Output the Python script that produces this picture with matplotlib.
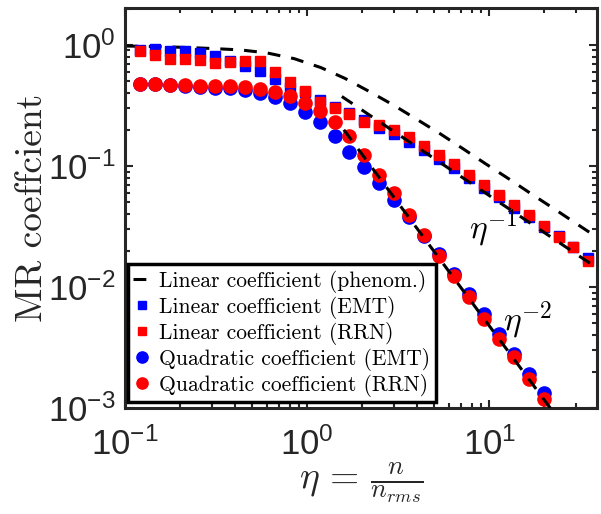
import numpy as np
import matplotlib
matplotlib.use('Agg')
import matplotlib.pyplot as plt
from matplotlib.ticker import FuncFormatter, LogLocator, NullFormatter

# ---------------- data ----------------
eta = [0.121, 0.147, 0.177, 0.214, 0.258, 0.312, 0.377, 0.455, 0.550, 0.664,
       0.802, 0.968, 1.170, 1.413, 1.706, 2.061, 2.489, 3.006, 3.631, 4.385,
       5.297, 6.397, 7.727, 9.333, 11.27, 13.61, 16.44, 19.86, 23.99, 28.97, 35.00]

lin_emt = [0.914, 0.923, 0.897, 0.897, 0.858, 0.815, 0.731, 0.665, 0.604, 0.521,
           0.443, 0.410, 0.352, 0.308, 0.273, 0.240, 0.205, 0.184, 0.159, 0.1357,
           0.1143, 0.0957, 0.0791, 0.0653, 0.0550, 0.0451, 0.0380, 0.0314, 0.0265,
           0.0215, 0.0175]

lin_rrn = [0.885, 0.831, 0.766, 0.770, 0.755, 0.704, 0.723, 0.741, 0.731, 0.597,
           0.490, 0.418, 0.339, 0.302, 0.270, 0.229, 0.220, 0.199, 0.174, 0.1464,
           0.1234, 0.1029, 0.0842, 0.0700, 0.0578, 0.0472, 0.0393, 0.0318, 0.0260,
           0.0212, 0.0164]

quad_emt = [0.475, 0.475, 0.469, 0.460, 0.451, 0.443, 0.439, 0.426, 0.403, 0.373,
            0.333, 0.280, 0.229, 0.177, 0.1306, 0.0972, 0.0727, 0.0523, 0.0380,
            0.0263, 0.01866, 0.01274, 0.00882, 0.00594, 0.00406, 0.00281, 0.00192,
            0.00132]

quad_rrn = [0.475, 0.475, 0.469, 0.463, 0.460, 0.454, 0.454, 0.449, 0.435, 0.406,
            0.376, 0.333, 0.284, 0.233, 0.176, 0.1234, 0.0842, 0.0601, 0.0393,
            0.0268, 0.01796, 0.01226, 0.00826, 0.00547, 0.00374, 0.00263, 0.00174,
            0.00119]

eta_phen = [0.1, 0.15, 0.21, 0.3, 0.43, 0.6, 0.85, 1.19, 1.61, 2.21, 2.96, 3.96,
            5.36, 7.16, 9.47, 12.67, 16.94, 22.96, 30.3, 40.0]
lin_phen = [0.98, 0.97, 0.955, 0.935, 0.91, 0.86, 0.77, 0.65, 0.53, 0.41, 0.32,
            0.245, 0.185, 0.139, 0.105, 0.079, 0.059, 0.0437, 0.0331, 0.0251]

eta_fit1 = [1.55, 40.0]
fit1 = [0.375, 0.0140]
eta_fit2 = [1.59, 23.0]
fit2 = [0.199, 8.8e-4]

labels = ['Linear coefficient (phenom.)', 'Linear coefficient (EMT)',
          'Linear coefficient (RRN)', 'Quadratic coefficient (EMT)',
          'Quadratic coefficient (RRN)']

# ---------------- style ----------------
plt.rcParams['font.family'] = ['Liberation Sans', 'DejaVu Sans']
plt.rcParams['mathtext.fontset'] = 'custom'
plt.rcParams['mathtext.rm'] = 'Liberation Sans'
plt.rcParams['mathtext.it'] = 'Liberation Sans:italic'
plt.rcParams['mathtext.bf'] = 'Liberation Sans:bold'

AX = '#262626'
BLUE = (0, 0, 1)
RED = (1, 0, 0)

fig = plt.figure(figsize=(6.01, 5.14), dpi=100)
ax = fig.add_axes([125 / 601, 1 - 408 / 514, (597 - 125) / 601, 400 / 514])

dash = (0, (4.2, 3.6))
h_phen, = ax.plot(eta_phen, lin_phen, color='k', lw=2.2, linestyle=dash, zorder=2)
h_le, = ax.plot(eta, lin_emt, 's', color=BLUE, ms=7.6, mec=BLUE, zorder=3)
h_lr, = ax.plot(eta, lin_rrn, 's', color=RED, ms=7.6, mec=RED, zorder=3)
h_qe, = ax.plot(eta[:len(quad_emt)], quad_emt, 'o', color=BLUE, ms=9.5, mec=BLUE, zorder=3)
h_qr, = ax.plot(eta[:len(quad_rrn)], quad_rrn, 'o', color=RED, ms=9.5, mec=RED, zorder=3)
ax.plot(eta_fit1, fit1, color='k', lw=2.2, linestyle=dash, zorder=4)
ax.plot(eta_fit2, fit2, color='k', lw=2.2, linestyle=dash, zorder=4)

ax.set_xscale('log')
ax.set_yscale('log')
ax.set_xlim(0.1, 39)
ax.set_ylim(1e-3, 2.02)

fmt = FuncFormatter(lambda v, p: r'$10^{%d}$' % int(round(np.log10(v))))
ax.xaxis.set_major_locator(LogLocator(base=10, numticks=10))
ax.yaxis.set_major_locator(LogLocator(base=10, numticks=10))
ax.xaxis.set_major_formatter(fmt)
ax.yaxis.set_major_formatter(fmt)
ax.xaxis.set_minor_locator(LogLocator(base=10, subs=np.arange(2, 10), numticks=20))
ax.yaxis.set_minor_locator(LogLocator(base=10, subs=np.arange(2, 10), numticks=20))
ax.xaxis.set_minor_formatter(NullFormatter())
ax.yaxis.set_minor_formatter(NullFormatter())

ax.tick_params(which='both', direction='in', top=True, right=True, colors=AX,
               labelsize=25, width=1.5)
ax.tick_params(which='major', length=6)
ax.tick_params(axis='y', which='major', pad=7)
ax.tick_params(axis='x', which='major', pad=14)
ax.tick_params(which='minor', length=3.5)
for s in ax.spines.values():
    s.set_linewidth(2.2)
    s.set_color(AX)

ax.set_ylabel('MR coeffcient', family='cmr10', fontsize=27, color=AX, labelpad=-1)
ax.set_xlabel(r'$\eta\, =\, \frac{n}{n_{rms}}$', fontsize=27, color=AX,
              math_fontfamily='cm', labelpad=-1)

ax.text(10.5, 0.0305, r'$\eta^{-1}$', fontsize=24, ha='center', va='center',
        math_fontfamily='cm', zorder=6)
ax.text(16.2, 0.0052, r'$\eta^{-2}$', fontsize=24, ha='center', va='center',
        math_fontfamily='cm', zorder=6)

leg = ax.legend([h_phen, h_le, h_lr, h_qe, h_qr], labels, loc='lower left',
                bbox_to_anchor=(0.006, 0.015), prop={'family': 'cmr10', 'size': 15.5},
                handlelength=0.8, handletextpad=0.4, borderpad=0.25,
                labelspacing=0.14, borderaxespad=0.0, fancybox=False,
                framealpha=1, edgecolor='k', markerscale=0.85)
leg.get_frame().set_linewidth(2.5)
leg.set_zorder(10)

fig.savefig('out.png', dpi=100)
